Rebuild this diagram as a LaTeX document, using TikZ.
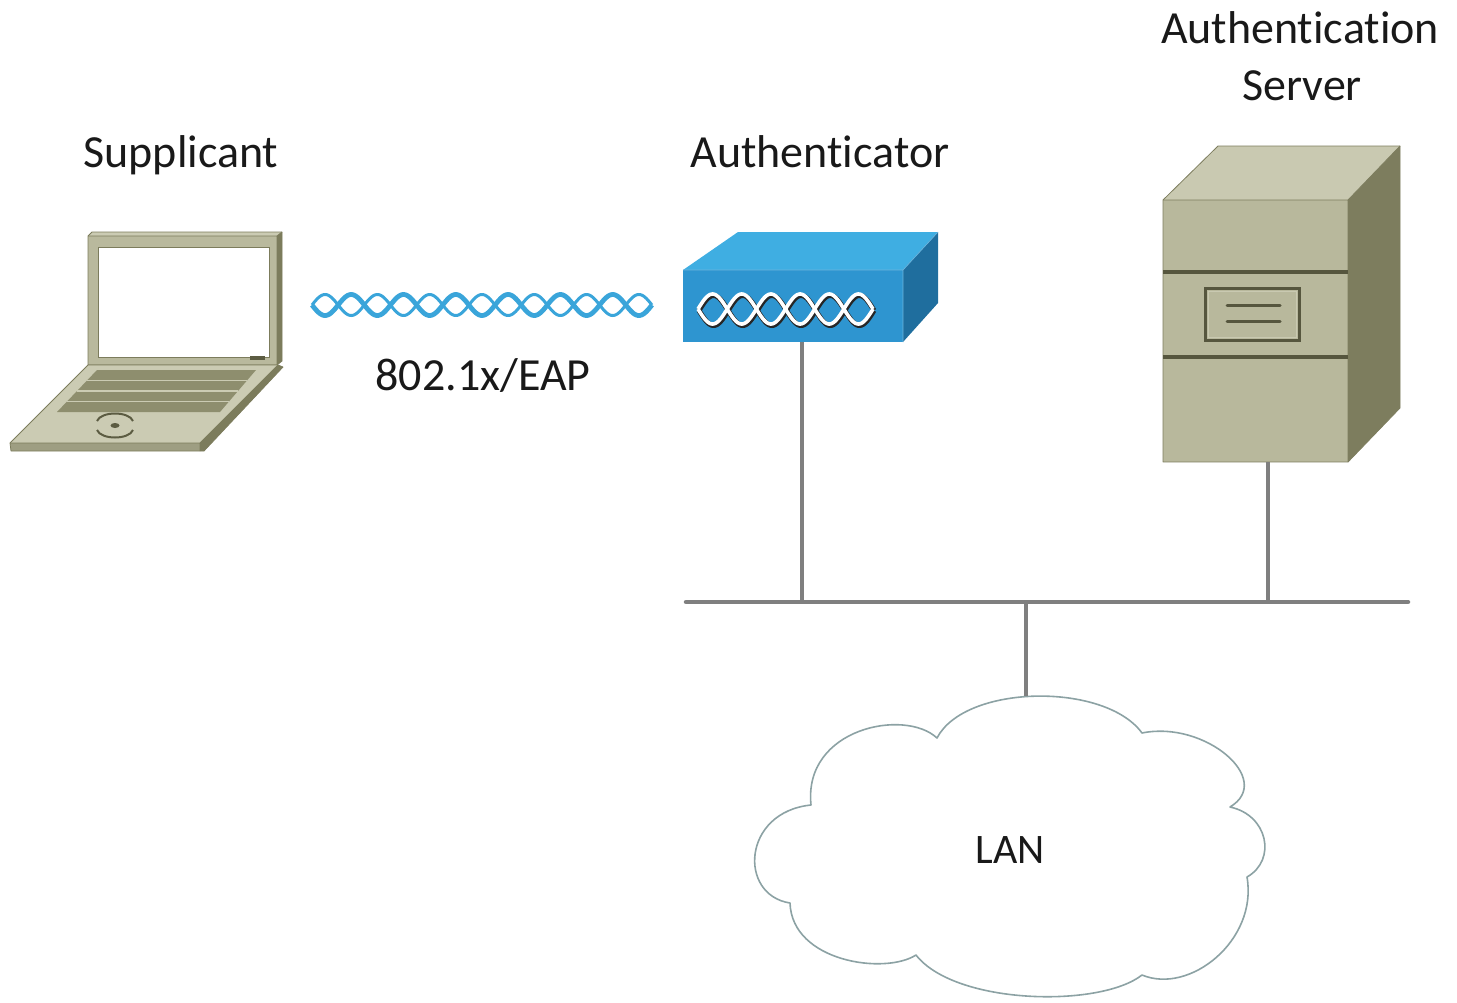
\documentclass[tikz,border=0pt]{standalone}
\usepackage{fontspec}
\setmainfont{Carlito}[Ligatures={NoCommon,NoContextual}]
% keeps "t" and "i" as separate glyphs
\newcommand{\tisep}{t\kern0pt i}
% device colours
\definecolor{olTop}{HTML}{CBCBB3}
\definecolor{olMid}{HTML}{B9B99D}
\definecolor{olFront}{HTML}{9E9E82}
\definecolor{olDark}{HTML}{7C7C5C}
\definecolor{olLine}{HTML}{5C5C42}
\definecolor{olKey}{HTML}{8E8E6E}
\definecolor{srvTop}{HTML}{C9C9B1}
\definecolor{srvFront}{HTML}{B8B89C}
\definecolor{srvSide}{HTML}{7D7D5E}
\definecolor{srvLine}{HTML}{56563E}
\definecolor{authTop}{HTML}{3FAEE2}
\definecolor{authFront}{HTML}{2E95D0}
\definecolor{authSide}{HTML}{1F6E9E}
\definecolor{linkBlue}{HTML}{3AA5DA}
\definecolor{wireGray}{HTML}{7F7F7F}
\definecolor{cloudLine}{HTML}{8CA2A4}
\begin{document}
\begin{tikzpicture}[x=1pt,y=-1pt,
  lbl/.style={font=\fontsize{46}{56}\selectfont, anchor=base, inner sep=0pt, text=black!90},
  wire/.style={draw=wireGray, line width=4.5pt, line cap=round},
  edge/.style={line width=0.8pt, line join=round}]
\useasboundingbox (0,0) rectangle (1457,1002);

% ---------- laptop (supplicant) ----------
% lid
\fill[olTop] (88,236) -- (92,232) -- (282,232) -- (277,236) -- cycle;
\fill[olDark] (277,236) -- (282,232) -- (282,361) -- (277,365) -- cycle;
\fill[olMid] (88,236) rectangle (277,365);
\draw[olDark, edge] (88,236) -- (92,232) -- (282,232) -- (282,361) -- (277,365) -- (88,365) -- cycle;
\draw[olDark, edge] (88,236) -- (277,236) -- (282,232) (277,236) -- (277,365);
\fill[white] (98,247) rectangle (269,357);
\draw[olDark, line width=0.6pt] (98,247) rectangle (269,357);
\fill[olLine] (250,356) rectangle (265,359.5);
% base
\fill[olTop] (88,365) -- (278,365) -- (200,443) -- (10,443) -- cycle;
\fill[olFront] (10,443) -- (200,443) -- (200,451) -- (11,451) -- cycle;
\fill[olDark] (200,443) -- (278,365) -- (283,367) -- (204,451) -- (200,451) -- cycle;
\draw[olDark, edge] (88,365) -- (278,365) -- (283,367) -- (204,451) -- (11,451) -- (10,443) -- cycle;
\draw[olDark, edge] (10,443) -- (200,443) -- (278,365) (200,443) -- (200,451);
% keyboard
\fill[olKey] (97,370) -- (256,370) -- (220,412) -- (57,412) -- cycle;
\draw[olTop, line width=1.6pt] (87,380.5) -- (247,380.5)
                               (77,391) -- (238,391)
                               (67,401.5) -- (229,401.5);
% touch pad
\draw[olLine, line width=2pt] (97,421) .. controls (101,411) and (129,411) .. (133,421);
\draw[olLine, line width=2pt] (97,430) .. controls (101,440) and (129,440) .. (133,430);
\fill[olLine] (115,425.5) ellipse [x radius=4.5, y radius=2.5];

% ---------- wireless link ----------
\draw[linkBlue, line width=3pt] plot[variable=\t, domain=0:340, samples=260, smooth]
  ({312+\t},{305-10.5*sin(\t/26.15*180)});
\draw[linkBlue, line width=4.8pt] plot[variable=\t, domain=0:340, samples=260, smooth]
  ({312+\t},{305+10.5*sin(\t/26.15*180)});

% ---------- authenticator ----------
\fill[authTop] (683,270) -- (738,232) -- (938,232) -- (903,270) -- cycle;
\fill[authSide] (903,270) -- (938,232) -- (938,303) -- (903,342) -- cycle;
\fill[authFront] (683,270) rectangle (903,342);
\draw[authFront!70!white, line width=0.6pt] (683,270) -- (903,270) -- (938,232) (903,270) -- (903,342);
% wireless emblem on the front
\foreach \s in {1,-1}{
  \draw[black!85, line width=5pt] plot[variable=\t, domain=0:175, samples=200, smooth]
    ({698+\t+1},{309+1.5+\s*15*sin(\t/29.17*180)});
}
\foreach \s in {1,-1}{
  \draw[white, line width=3.6pt] plot[variable=\t, domain=0:175, samples=200, smooth]
    ({698+\t},{309+\s*15*sin(\t/29.17*180)});
}
\coordinate (authS) at (802,342);

% ---------- authentication server ----------
\fill[srvTop] (1163,200) -- (1218,146) -- (1400,146) -- (1348,200) -- cycle;
\fill[srvSide] (1348,200) -- (1400,146) -- (1400,408) -- (1348,462) -- cycle;
\fill[srvFront] (1163,200) rectangle (1348,462);
\draw[srvSide, edge] (1163,200) -- (1218,146) -- (1400,146) -- (1400,408) -- (1348,462) -- (1163,462) -- cycle;
\draw[srvSide, edge] (1163,200) -- (1348,200) -- (1400,146) (1348,200) -- (1348,462);
\draw[srvLine, line width=3.5pt] (1163,272) -- (1348,272) (1163,357) -- (1348,357);
\draw[srvLine, line width=3pt] (1205,288) rectangle (1299,340);
\draw[srvTop, line width=1pt] (1208,291) rectangle (1296,337);
\draw[srvLine, line width=3pt, line cap=round] (1227,305) -- (1280,305) (1227,321) -- (1280,321);
\coordinate (srvS) at (1268,462);

% ---------- LAN cloud ----------
\draw[cloudLine, line width=1.6pt, fill=white, line join=round]
  (937,738) .. controls (965,684) and (1105,682) .. (1142,733)
  .. controls (1205,720) and (1275,780) .. (1230,807)
  .. controls (1268,815) and (1277,860) .. (1247,877)
  .. controls (1258,940) and (1190,995) .. (1142,975)
  .. controls (1100,1008) and (955,1005) .. (916,955)
  .. controls (885,975) and (792,962) .. (790,903)
  .. controls (738,895) and (742,812) .. (811,805)
  .. controls (803,728) and (905,708) .. (937,738) -- cycle;
\coordinate (cloudN) at (1026,696);
\node[lbl, font=\fontsize{42}{50}\selectfont] (lan) at (1010,863) {LAN};

% ---------- network bus ----------
\coordinate (busL) at (686,602);
\coordinate (busR) at (1408,602);
\coordinate (busA) at (802,602);
\coordinate (busS) at (1268,602);
\coordinate (busC) at (1026,602);
\draw[wire, line cap=butt, line width=4pt] (authS) -- (busA);
\draw[wire, line cap=butt, line width=4pt] (srvS) -- (busS);
\draw[wire, line cap=butt, line width=4pt] (busC) -- (cloudN);
\draw[wire] (busL) -- (busR);

% ---------- labels ----------
\node[lbl] (supplicant) at (181,167) {Supplicant};
\node[lbl] (authenticator) at (820,167) {Authen\tisep cator};
\node[lbl] (authserver1) at (1300,43) {Authen\tisep ca\tisep on};
\node[lbl] (authserver2) at (1302,100) {Server};
\node[lbl] (eap) at (483,390) {802.1x/EAP};
\end{tikzpicture}
\end{document}
